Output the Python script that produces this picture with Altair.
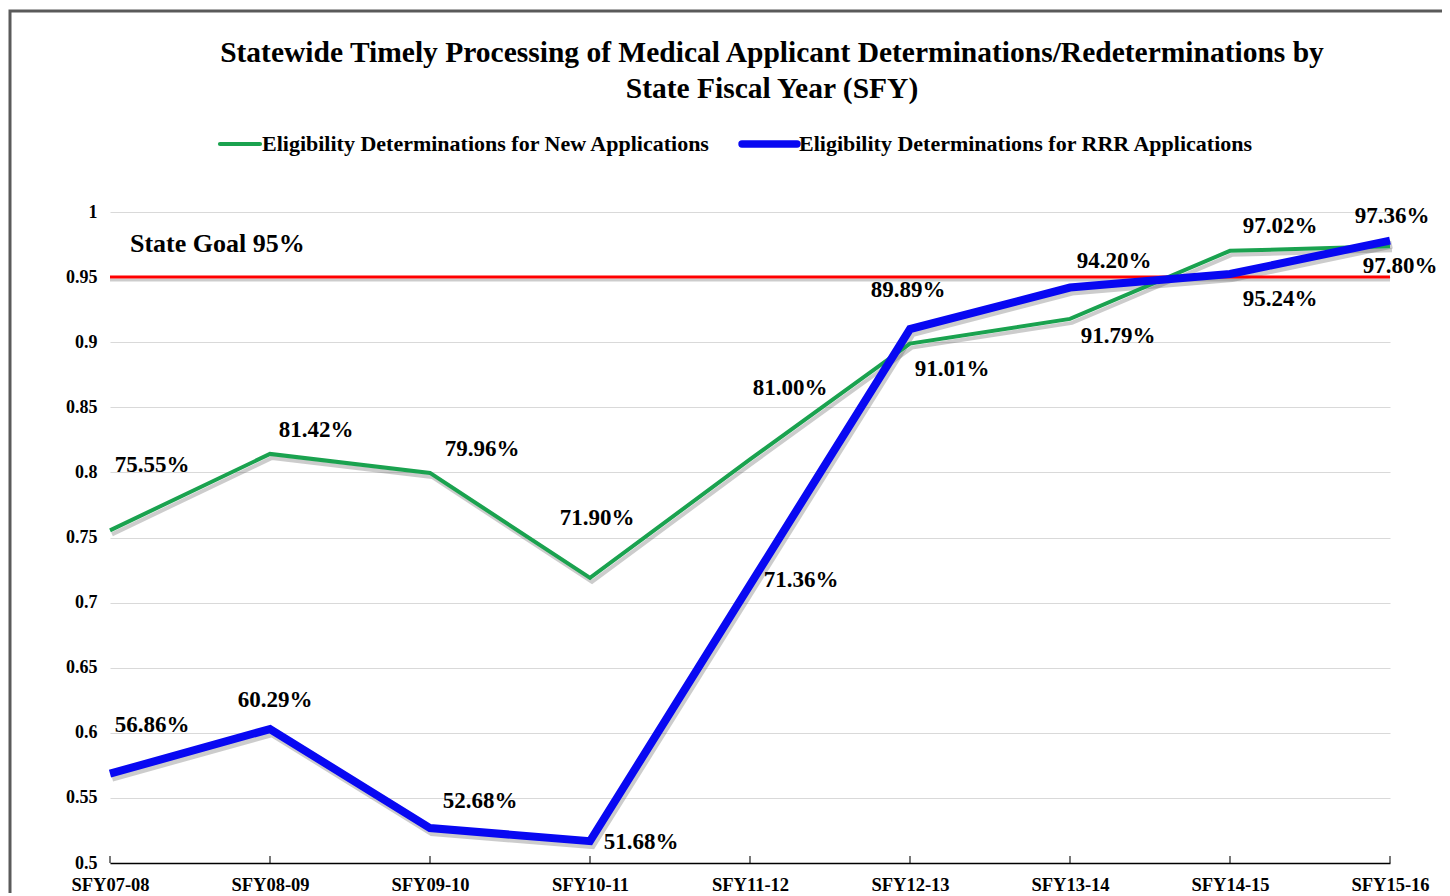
import altair as alt
import pandas as pd

# ---------------- data ----------------
years = ["SFY07-08", "SFY08-09", "SFY09-10", "SFY10-11", "SFY11-12",
         "SFY12-13", "SFY13-14", "SFY14-15", "SFY15-16"]
new_apps = [75.55, 81.42, 79.96, 71.90, 81.00, 89.89, 91.79, 97.02, 97.36]
rrr_apps = [56.86, 60.29, 52.68, 51.68, 71.36, 91.01, 94.20, 95.24, 97.80]
series_names = ["Eligibility Determinations for New Applications",
                "Eligibility Determinations for RRR Applications"]
state_goal = 0.95
goal_text = "State Goal 95%"
y_ticks = [0.5, 0.55, 0.6, 0.65, 0.7, 0.75, 0.8, 0.85, 0.9, 0.95, 1.0]
title_lines = ["Statewide Timely Processing of Medical Applicant Determinations/Redeterminations by",
               "State Fiscal Year (SFY)"]

# label placement (pixel offsets from each point)
new_dx = [42, 46, 52, 7, 40, -2, 48, 50, 2]
new_dy = [-65, -24, -24, -60, -71, -54, 17, -25, -30]
rrr_dx = [42, 5, 50, 51, 51, 42, 44, 50, 10]
rrr_dy = [-49, -29, -27, 1, -5, 40, -27, 25, 25]

# ---------------- styles ----------------
GREEN = "#1aa24f"
BLUE = "#0808f2"
RED = "#ff0000"
FONT = "Liberation Serif"
W, H = 1280, 651
PAD_L, PAD_T = 102, 204
SERIES_COLORS = [GREEN, BLUE]
SERIES_WIDTHS = [4, 8]

rows = []
for i, y in enumerate(years):
    rows.append({"year": y, "series": series_names[0], "value": new_apps[i] / 100,
                 "label": f"{new_apps[i]:.2f}%", "idx": i, "dx": new_dx[i], "dy": new_dy[i]})
    rows.append({"year": y, "series": series_names[1], "value": rrr_apps[i] / 100,
                 "label": f"{rrr_apps[i]:.2f}%", "idx": i, "dx": rrr_dx[i], "dy": rrr_dy[i]})
df = pd.DataFrame(rows)

x_enc = alt.X("year:N", sort=years, title=None,
              scale=alt.Scale(type="point", padding=0),
              axis=alt.Axis(labelAngle=0, labelFont=FONT, labelFontWeight="bold",
                            labelFontSize=18.5, labelColor="black", labelPadding=12,
                            domainColor="black", domainWidth=1.5, ticks=False, grid=False))
y_enc = alt.Y("value:Q", title=None,
              scale=alt.Scale(domain=[0.5, 1.0], nice=False, zero=False),
              axis=alt.Axis(values=y_ticks, format="~g", labelFont=FONT,
                            labelFontWeight="bold", labelFontSize=18, labelColor="black",
                            labelPadding=13, domain=False, ticks=False,
                            gridColor="#d9d9d9", gridWidth=1))

base = alt.Chart(df)
one = pd.DataFrame({"a": [0]})

border = alt.Chart(one).mark_rect(
    fill=None, stroke="#5a5a5a", strokeWidth=3, clip=False
).encode(x=alt.value(-100), x2=alt.value(W + 54), y=alt.value(-201), y2=alt.value(H + 120))

title_layers = [
    alt.Chart(one).mark_text(
        font=FONT, fontSize=29.5, fontWeight="bold", color="black",
        align="center", baseline="middle"
    ).encode(x=alt.value(W / 2 + 22), y=alt.value(-159 + 36 * k), text=alt.value(t))
    for k, t in enumerate(title_lines)
]

# legend (drawn as marks: stroke sample + label)
legend_sym_x = [110, 632]
legend_sym_len = [40, 55]
legend_layers = []
for k, name in enumerate(series_names):
    legend_layers.append(
        alt.Chart(one).mark_rule(color=SERIES_COLORS[k], strokeWidth=SERIES_WIDTHS[k] * 0.8 + 1,
                                 strokeCap="round")
        .encode(x=alt.value(legend_sym_x[k]), x2=alt.value(legend_sym_x[k] + legend_sym_len[k]),
                y=alt.value(-68))
    )
    legend_layers.append(
        alt.Chart(one).mark_text(font=FONT, fontSize=22, fontWeight="bold", color="black",
                                 align="left", baseline="middle")
        .encode(x=alt.value(legend_sym_x[k] + legend_sym_len[k] + 2), y=alt.value(-68),
                text=alt.value(name))
    )

sw_scale = alt.Scale(domain=series_names, range=SERIES_WIDTHS)

shadow = base.mark_line(color="#555555", opacity=0.3, xOffset=2, yOffset=4).encode(
    x=x_enc, y=y_enc, detail="series:N",
    strokeWidth=alt.StrokeWidth("series:N", scale=sw_scale, legend=None))

goal_shadow = alt.Chart(one).mark_rule(
    color="#555555", opacity=0.3, strokeWidth=3, yOffset=3
).encode(y=alt.datum(state_goal))

goal_rule = alt.Chart(one).mark_rule(
    color=RED, strokeWidth=3
).encode(y=alt.datum(state_goal))

lines = base.mark_line().encode(
    x=x_enc, y=y_enc,
    color=alt.Color("series:N", scale=alt.Scale(domain=series_names, range=SERIES_COLORS),
                    legend=None),
    strokeWidth=alt.StrokeWidth("series:N", scale=sw_scale, legend=None),
)

ticks = alt.Chart(pd.DataFrame({"year": years})).mark_tick(
    orient="vertical", size=7, thickness=1.5, color="black", yOffset=-3.5
).encode(x=alt.X("year:N", sort=years, scale=alt.Scale(type="point", padding=0)),
         y=alt.datum(0.5))

label_layers = []
for _, r in df.iterrows():
    label_layers.append(
        alt.Chart(df).transform_filter(
            (alt.datum.idx == int(r["idx"])) & (alt.datum.series == r["series"])
        ).mark_text(font=FONT, fontWeight="bold", fontSize=23, color="black",
                    align="center", baseline="middle", dx=int(r["dx"]), dy=int(r["dy"])
        ).encode(x=alt.X("year:N", sort=years), y=alt.Y("value:Q"), text="label:N")
    )

goal_label = alt.Chart(one).mark_text(
    font=FONT, fontWeight="bold", fontSize=26, color="black",
    align="left", baseline="middle", dy=-33
).encode(x=alt.value(20), y=alt.datum(state_goal), text=alt.value(goal_text))

chart = alt.layer(
    border, *title_layers, *legend_layers, shadow, goal_shadow, goal_rule, lines, ticks,
    *label_layers, goal_label
).properties(
    width=W, height=H,
    autosize=alt.AutoSizeParams(type="none"),
    padding={"left": PAD_L, "top": PAD_T, "right": 1434 - PAD_L - W, "bottom": 30},
).configure(background="white", view=alt.ViewConfig(stroke=None))

chart.save("out.html", embed_options={"renderer": "svg", "actions": False})
